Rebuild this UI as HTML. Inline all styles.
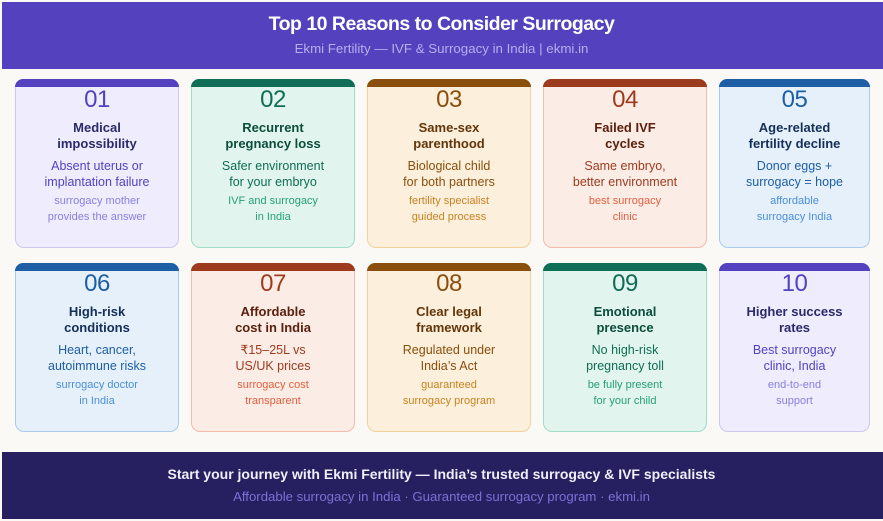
<!DOCTYPE html>
<html><head><meta charset="utf-8">
<style>
*{margin:0;padding:0;box-sizing:border-box}
html,body{width:883px;height:521px;overflow:hidden;background:#faf9f6;font-family:"Liberation Sans","DejaVu Sans",sans-serif}
.hdr{position:absolute;left:2px;top:2px;width:881px;height:67px;background:#5341bd}
.t1{position:absolute;left:0;width:883px;text-align:center;top:12px;line-height:24px;font-size:19.5px;font-weight:bold;color:#fff;letter-spacing:-0.5px}
.t2{position:absolute;left:0;width:883px;text-align:center;top:41px;line-height:16px;font-size:13.3px;color:#b7aef0}
.ftr{position:absolute;left:2px;top:452px;width:881px;height:67px;background:#262060}
.f1{position:absolute;left:0;width:883px;text-align:center;top:465px;line-height:18px;font-size:14px;font-weight:bold;color:#efeefa}
.f2{position:absolute;left:0;width:883px;text-align:center;top:489px;line-height:16px;font-size:13.2px;color:#7c70d6}
.c{position:absolute;height:169px;border:1px solid;border-radius:9px}
.bar{position:absolute;top:-1px;left:-1px;right:-1px;height:8px;border-radius:9px 9px 0 0}
.n{position:absolute;left:0;right:0;top:7px;line-height:26px;font-size:24px;text-align:center;letter-spacing:-0.5px}
.ti{position:absolute;left:0;right:0;top:39.5px;line-height:16px;font-size:13px;font-weight:bold;text-align:center}
.d{position:absolute;left:0;right:0;top:77.7px;line-height:16px;font-size:12.5px;text-align:center}
.s{position:absolute;left:0;right:0;top:112.7px;line-height:16px;font-size:11px;text-align:center}
.pu{background:#eeecfd;border-color:#cdc7f4}.pu .bar{background:#5242c0}.pu .n{color:#5242c0}.pu .ti{color:#2d2a6b}.pu .d{color:#5243c2}.pu .s{color:#8a7fe0}
.gr{background:#e1f4ed;border-color:#a3dcc6}.gr .bar{background:#0f6e55}.gr .n{color:#0f6e55}.gr .ti{color:#0c4d3b}.gr .d{color:#0f6e55}.gr .s{color:#26a077}
.am{background:#fcefdc;border-color:#f5d09a}.am .bar{background:#8a4f0c}.am .n{color:#8a4f0c}.am .ti{color:#633609}.am .d{color:#8a4f0c}.am .s{color:#c88322}
.rd{background:#fbece6;border-color:#f1bca9}.rd .bar{background:#9d3b1f}.rd .n{color:#9d3b1f}.rd .ti{color:#5c200e}.rd .d{color:#9d3b1f}.rd .s{color:#e0613d}
.bl{background:#e5f0fb;border-color:#abcbee}.bl .bar{background:#1d5ea5}.bl .n{color:#1d5ea5}.bl .ti{color:#142f5a}.bl .d{color:#1d5ea5}.bl .s{color:#4a8fd8}
</style></head><body>
<div class="hdr"></div>
<div class="t1">Top 10 Reasons to Consider Surrogacy</div>
<div class="t2">Ekmi Fertility — IVF &amp; Surrogacy in India | ekmi.in</div>

<div class="c pu" style="left:15px;top:79px;width:164px"><div class="bar"></div><div class="n">01</div><div class="ti">Medical<br>impossibility</div><div class="d">Absent uterus or<br>implantation failure</div><div class="s">surrogacy mother<br>provides the answer</div></div>
<div class="c gr" style="left:191px;top:79px;width:164px"><div class="bar"></div><div class="n">02</div><div class="ti">Recurrent<br>pregnancy loss</div><div class="d">Safer environment<br>for your embryo</div><div class="s">IVF and surrogacy<br>in India</div></div>
<div class="c am" style="left:367px;top:79px;width:164px"><div class="bar"></div><div class="n">03</div><div class="ti">Same-sex<br>parenthood</div><div class="d">Biological child<br>for both partners</div><div class="s">fertility specialist<br>guided process</div></div>
<div class="c rd" style="left:543px;top:79px;width:164px"><div class="bar"></div><div class="n">04</div><div class="ti">Failed IVF<br>cycles</div><div class="d">Same embryo,<br>better environment</div><div class="s">best surrogacy<br>clinic</div></div>
<div class="c bl" style="left:719px;top:79px;width:151px"><div class="bar"></div><div class="n">05</div><div class="ti">Age-related<br>fertility decline</div><div class="d">Donor eggs +<br>surrogacy = hope</div><div class="s">affordable<br>surrogacy India</div></div>

<div class="c bl" style="left:15px;top:263px;width:164px"><div class="bar"></div><div class="n">06</div><div class="ti">High-risk<br>conditions</div><div class="d">Heart, cancer,<br>autoimmune risks</div><div class="s">surrogacy doctor<br>in India</div></div>
<div class="c rd" style="left:191px;top:263px;width:164px"><div class="bar"></div><div class="n">07</div><div class="ti">Affordable<br>cost in India</div><div class="d">₹15–25L vs<br>US/UK prices</div><div class="s">surrogacy cost<br>transparent</div></div>
<div class="c am" style="left:367px;top:263px;width:164px"><div class="bar"></div><div class="n">08</div><div class="ti">Clear legal<br>framework</div><div class="d">Regulated under<br>India’s Act</div><div class="s">guaranteed<br>surrogacy program</div></div>
<div class="c gr" style="left:543px;top:263px;width:164px"><div class="bar"></div><div class="n">09</div><div class="ti">Emotional<br>presence</div><div class="d">No high-risk<br>pregnancy toll</div><div class="s">be fully present<br>for your child</div></div>
<div class="c pu" style="left:719px;top:263px;width:151px"><div class="bar"></div><div class="n">10</div><div class="ti">Higher success<br>rates</div><div class="d">Best surrogacy<br>clinic, India</div><div class="s">end-to-end<br>support</div></div>

<div class="ftr"></div>
<div class="f1">Start your journey with Ekmi Fertility — India’s trusted surrogacy &amp; IVF specialists</div>
<div class="f2">Affordable surrogacy in India · Guaranteed surrogacy program · ekmi.in</div>
</body></html>
